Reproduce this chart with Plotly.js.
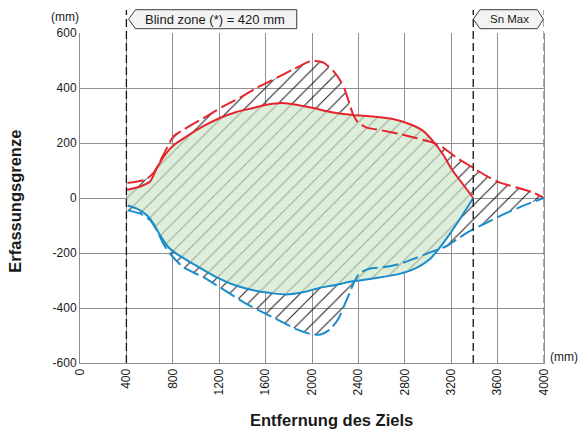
<!DOCTYPE html>
<html>
<head>
<meta charset="utf-8">
<script src="https://cdn.plot.ly/plotly-3.0.1.min.js"></script>
<style>html,body{margin:0;padding:0;background:#fff;}#chart{width:581px;height:432px;}</style>
</head>
<body>
<div id="chart"></div>
<script>
// Data (mm)
const redSolidX = [406,520,606,663,734,820,920,1063,1206,1349,1491,1606,1749,1863,2000,2181,2353,2525,2697,2840,2955,3041,3127,3213,3299,3390];
const redSolidY = [30,42,61,109,158,196,224,261,291,313,327,339,345,339,328,311,302,296,287,269,245,208,160,99,51,0];
const redDashX = [411,563,634,720,806,891,1091,1234,1377,1520,1691,1834,1977,2000,2095,2181,2252,2281,2324,2353,2396,2467,2611,2754,2897,3041,3127,3242,3385,3500,3614,3758,3901,4000];
const redDashY = [55,67,91,158,224,248,297,333,364,400,436,467,497,500,493,463,421,396,342,305,275,257,245,233,218,202,184,148,111,81,57,39,21,0];
const blueSolidX = [411,491,577,634,691,763,834,977,1149,1349,1549,1777,1920,2063,2181,2353,2554,2754,2897,3012,3098,3184,3299,3390];
const blueSolidY = [-27,-39,-63,-94,-136,-179,-203,-240,-282,-319,-340,-351,-343,-327,-318,-303,-291,-276,-255,-224,-182,-133,-61,0];
const blueDashX = [411,520,606,663,720,777,891,1063,1206,1434,1577,1720,1863,1991,2066,2152,2224,2281,2324,2367,2410,2496,2611,2754,2897,3041,3156,3242,3356,3500,3672,3844,4000];
const blueDashY = [-45,-57,-81,-118,-167,-203,-252,-288,-325,-385,-416,-446,-477,-495,-497,-479,-442,-388,-345,-303,-273,-257,-252,-240,-218,-194,-176,-152,-121,-91,-55,-24,0];
const xTicks = [0,400,800,1200,1600,2000,2400,2800,3200,3600,4000];
const yTicks = [-600,-400,-200,0,200,400,600];
const blindZone = 400;
const snMax = 3390;

const RED = '#e5252d';
const BLUE = '#1b8ccb';

const hatchX = redDashX.concat(blueDashX.slice().reverse());
const hatchY = redDashY.concat(blueDashY.slice().reverse());
const greenX = redSolidX.concat(blueSolidX.slice().reverse());
const greenY = redSolidY.concat(blueSolidY.slice().reverse());

const traces = [
  {x: hatchX, y: hatchY, mode: 'lines', fill: 'toself', line: {width: 0, color: 'rgba(0,0,0,0)'},
   fillcolor: 'rgba(0,0,0,0)',
   fillpattern: {shape: '/', fgcolor: '#1a1a1a', bgcolor: 'rgba(255,255,255,0)', size: 10, solidity: 0.1},
   hoverinfo: 'skip', showlegend: false},
  {x: greenX, y: greenY, mode: 'lines', fill: 'toself', line: {width: 0, color: 'rgba(0,0,0,0)'},
   fillcolor: '#ddeeda',
   fillpattern: {shape: '/', fgcolor: '#9ba897', bgcolor: '#ddeeda', size: 10, solidity: 0.1},
   hoverinfo: 'skip', showlegend: false},
  {x: redDashX, y: redDashY, mode: 'lines', line: {color: RED, width: 2, dash: '16px,5px', shape: 'spline', smoothing: 0.6}, showlegend: false},
  {x: blueDashX, y: blueDashY, mode: 'lines', line: {color: BLUE, width: 2, dash: '16px,5px', shape: 'spline', smoothing: 0.6}, showlegend: false},
  {x: redSolidX, y: redSolidY, mode: 'lines', line: {color: RED, width: 2, shape: 'spline', smoothing: 0.6}, showlegend: false},
  {x: blueSolidX, y: blueSolidY, mode: 'lines', line: {color: BLUE, width: 2, shape: 'spline', smoothing: 0.6}, showlegend: false}
];

const tickFont = {family: 'Liberation Sans, Arial, sans-serif', size: 12, color: '#1a1a1a'};

const layout = {
  width: 581, height: 432,
  margin: {l: 80, r: 37, t: 33, b: 69},
  paper_bgcolor: '#fff', plot_bgcolor: '#fff',
  font: tickFont,
  xaxis: {range: [0, 4000], tickvals: xTicks, ticktext: xTicks.map(String), tickangle: -90,
          showgrid: true, gridcolor: '#8f8f8f', gridwidth: 1, zeroline: false,
          showline: true, linecolor: '#8f8f8f', mirror: false, ticks: '', tickfont: tickFont, fixedrange: true},
  yaxis: {range: [-600, 600], tickvals: yTicks, ticktext: yTicks.map(String),
          showgrid: true, gridcolor: '#8f8f8f', gridwidth: 1, zeroline: false,
          showline: true, linecolor: '#8f8f8f', mirror: true, ticks: '', tickfont: tickFont, fixedrange: true},
  shapes: [
    {type: 'line', xref: 'x', yref: 'paper', x0: blindZone, x1: blindZone, y0: 0, y1: 1.07,
     line: {color: '#111', width: 1.3, dash: '8px,4px'}},
    {type: 'line', xref: 'x', yref: 'paper', x0: snMax, x1: snMax, y0: 0, y1: 1.07,
     line: {color: '#111', width: 1.3, dash: '8px,4px'}},
    {type: 'line', xref: 'x', yref: 'paper', x0: 4000, x1: 4000, y0: 0, y1: 1.07,
     line: {color: '#8f8f8f', width: 1.5, dash: '8px,4px'}},
    {type: 'path', xref: 'paper', yref: 'paper',
     path: 'M 0.1048 1.0418 L 0.1195 1.0706 L 0.4671 1.0706 L 0.4671 1.0130 L 0.1195 1.0130 Z',
     fillcolor: '#f3f3f3', line: {color: '#3a3a3a', width: 1}},
    {type: 'path', xref: 'paper', yref: 'paper',
     path: 'M 0.8476 1.0418 L 0.8620 1.0706 L 0.9856 1.0706 L 0.9985 1.0418 L 0.9856 1.0130 L 0.8620 1.0130 Z',
     fillcolor: '#f3f3f3', line: {color: '#3a3a3a', width: 1}}
  ],
  annotations: [
    {text: 'Blind zone (*) = 420 mm', xref: 'paper', yref: 'paper', x: 0.292, y: 1.041, showarrow: false,
     xanchor: 'center', yanchor: 'middle', font: {family: 'Liberation Sans, Arial, sans-serif', size: 13, color: '#1a1a1a'}},
    {text: 'Sn Max', xref: 'paper', yref: 'paper', x: 0.9246, y: 1.041, showarrow: false,
     xanchor: 'center', yanchor: 'middle', font: {family: 'Liberation Sans, Arial, sans-serif', size: 11.5, color: '#1a1a1a'}},
    {text: '(mm)', xref: 'paper', yref: 'paper', x: -0.032, y: 1.048, showarrow: false,
     xanchor: 'center', yanchor: 'middle', font: {family: 'Liberation Sans, Arial, sans-serif', size: 12, color: '#1a1a1a'}},
    {text: '(mm)', xref: 'paper', yref: 'paper', x: 1.043, y: 0.019, showarrow: false,
     xanchor: 'center', yanchor: 'middle', font: {family: 'Liberation Sans, Arial, sans-serif', size: 12, color: '#1a1a1a'}},
    {text: '<b>Entfernung des Ziels</b>', xref: 'paper', yref: 'paper', x: (331 - 80) / 464, y: (363.3 - 420) / 330,
     showarrow: false, xanchor: 'center', yanchor: 'middle',
     font: {family: 'Liberation Sans, Arial, sans-serif', size: 16.5, color: '#1a1a1a'}},
    {text: '<b>Erfassungsgrenze</b>', xref: 'paper', yref: 'paper', x: (15 - 80) / 464, y: (363.3 - 202) / 330,
     showarrow: false, xanchor: 'center', yanchor: 'middle', textangle: -90,
     font: {family: 'Liberation Sans, Arial, sans-serif', size: 16.5, color: '#1a1a1a'}}
  ]
};

Plotly.newPlot('chart', traces, layout, {displayModeBar: false, staticPlot: true});
</script>
</body>
</html>
